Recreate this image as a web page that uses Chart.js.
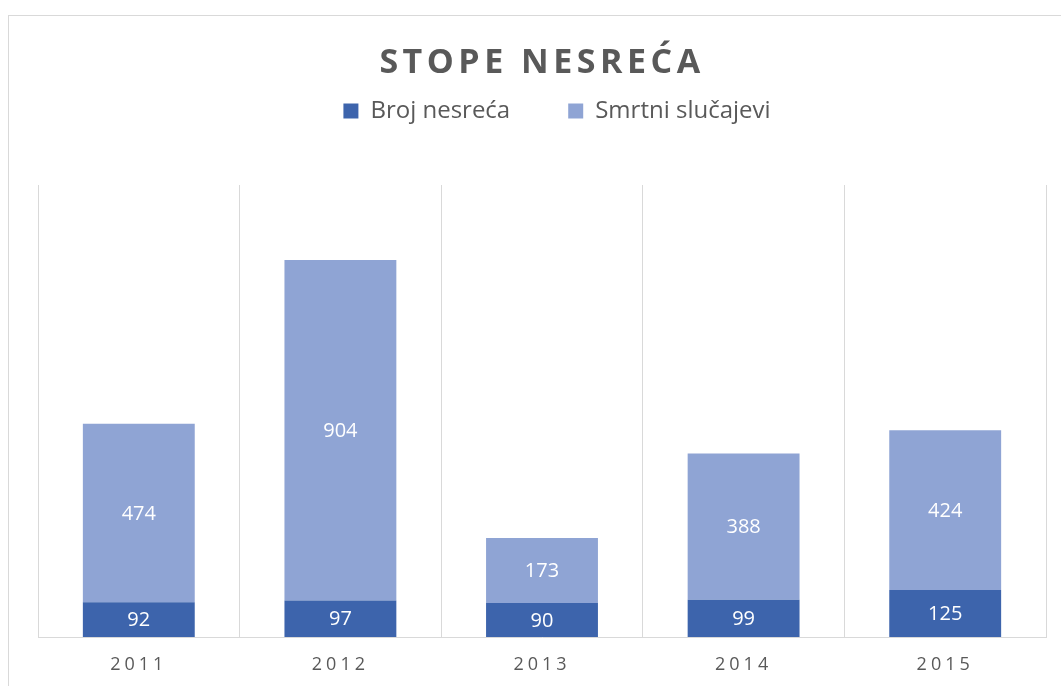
<!DOCTYPE html>
<html>
<head>
<meta charset="utf-8">
<script src="https://cdn.jsdelivr.net/npm/chart.js@4/dist/chart.umd.min.js"></script>
<style>
  html, body { margin: 0; padding: 0; background: #fff; }
  #wrap { width: 1061px; height: 686px; position: relative; }
</style>
</head>
<body>
<div id="wrap"><canvas id="barChart_stope"></canvas></div>
<script>
var years = ['2011', '2012', '2013', '2014', '2015'];
var brojNesreca = [92, 97, 90, 99, 125];
var smrtniSlucajevi = [474, 904, 173, 388, 424];
var seriesNames = ['Broj nesreća', 'Smrtni slučajevi'];
var chartTitle = 'STOPE NESREĆA';

var textGray = '#595959';
var gridGray = '#d9d9d9';

Chart.defaults.font.family = '"Open Sans", sans-serif';

// title, value labels and letter spacing for the year ticks
var stopePlugin = {
    id: 'stope',
    beforeDraw: function (chart) {
        var ctx = chart.ctx;
        ctx.letterSpacing = '0px';
        ctx.save();
        ctx.fillStyle = '#fff';
        ctx.fillRect(0, 0, chart.width, chart.height);
        ctx.strokeStyle = gridGray;
        ctx.lineWidth = 1;
        ctx.strokeRect(8.5, 15.5, 1200, 800);
        ctx.restore();
    },
    afterLayout: function (chart) {
        // excel centres the legend a little to the right
        chart.legend.left += 15;
        chart.legend.right += 15;
    },
    afterDatasetsDraw: function (chart) {
        var ctx = chart.ctx;
        ctx.save();
        ctx.font = '20px "Open Sans"';
        ctx.fillStyle = '#fff';
        ctx.textAlign = 'center';
        ctx.textBaseline = 'middle';
        chart.data.datasets.forEach(function (ds, i) {
            var meta = chart.getDatasetMeta(i);
            meta.data.forEach(function (bar, j) {
                var c = bar.getCenterPoint();
                ctx.fillText(ds.data[j], c.x, c.y + 1);
            });
        });
        ctx.letterSpacing = '4.5px';
        ctx.font = 'bold 34px "Open Sans"';
        ctx.fillStyle = textGray;
        ctx.textBaseline = 'alphabetic';
        ctx.fillText(chartTitle, 542, 73);
        ctx.restore();
        ctx.letterSpacing = '4px';
    },
    afterDraw: function (chart) {
        chart.ctx.letterSpacing = '0px';
    }
};

var barData = {
    labels: years,
    datasets: [
        {
            label: seriesNames[0],
            backgroundColor: '#3d64ac',
            data: brojNesreca
        },
        {
            label: seriesNames[1],
            backgroundColor: '#8fa4d4',
            data: smrtniSlucajevi
        }
    ]
};

var barOptions = {
    responsive: true,
    maintainAspectRatio: false,
    animation: false,
    layout: {
        padding: { top: 41, left: 38, right: 15, bottom: 0 }
    },
    datasets: {
        bar: {
            categoryPercentage: 1,
            barPercentage: 0.555,
            borderWidth: 0
        }
    },
    plugins: {
        title: { display: false },
        legend: {
            position: 'top',
            labels: {
                color: textGray,
                boxWidth: 15,
                boxHeight: 15,
                padding: 58,
                font: { size: 24 }
            }
        },
        subtitle: {
            // spacer between legend and plot
            display: true,
            text: '',
            weight: 500,
            font: { size: 13, lineHeight: 1 },
            padding: { top: 39, bottom: 0 }
        },
        tooltip: { enabled: false }
    },
    scales: {
        x: {
            stacked: true,
            grid: { color: gridGray, drawTicks: false, offset: true },
            border: { color: gridGray },
            ticks: { color: textGray, font: { size: 18 }, padding: 17, z: 1 },
            afterFit: function (scale) { scale.height = 49; }
        },
        y: {
            stacked: true,
            display: false,
            min: 0,
            max: 1200
        }
    }
};

var ctx2 = document.getElementById('barChart_stope').getContext('2d');
new Chart(ctx2, { type: 'bar', data: barData, options: barOptions, plugins: [stopePlugin] });
</script>
</body>
</html>
